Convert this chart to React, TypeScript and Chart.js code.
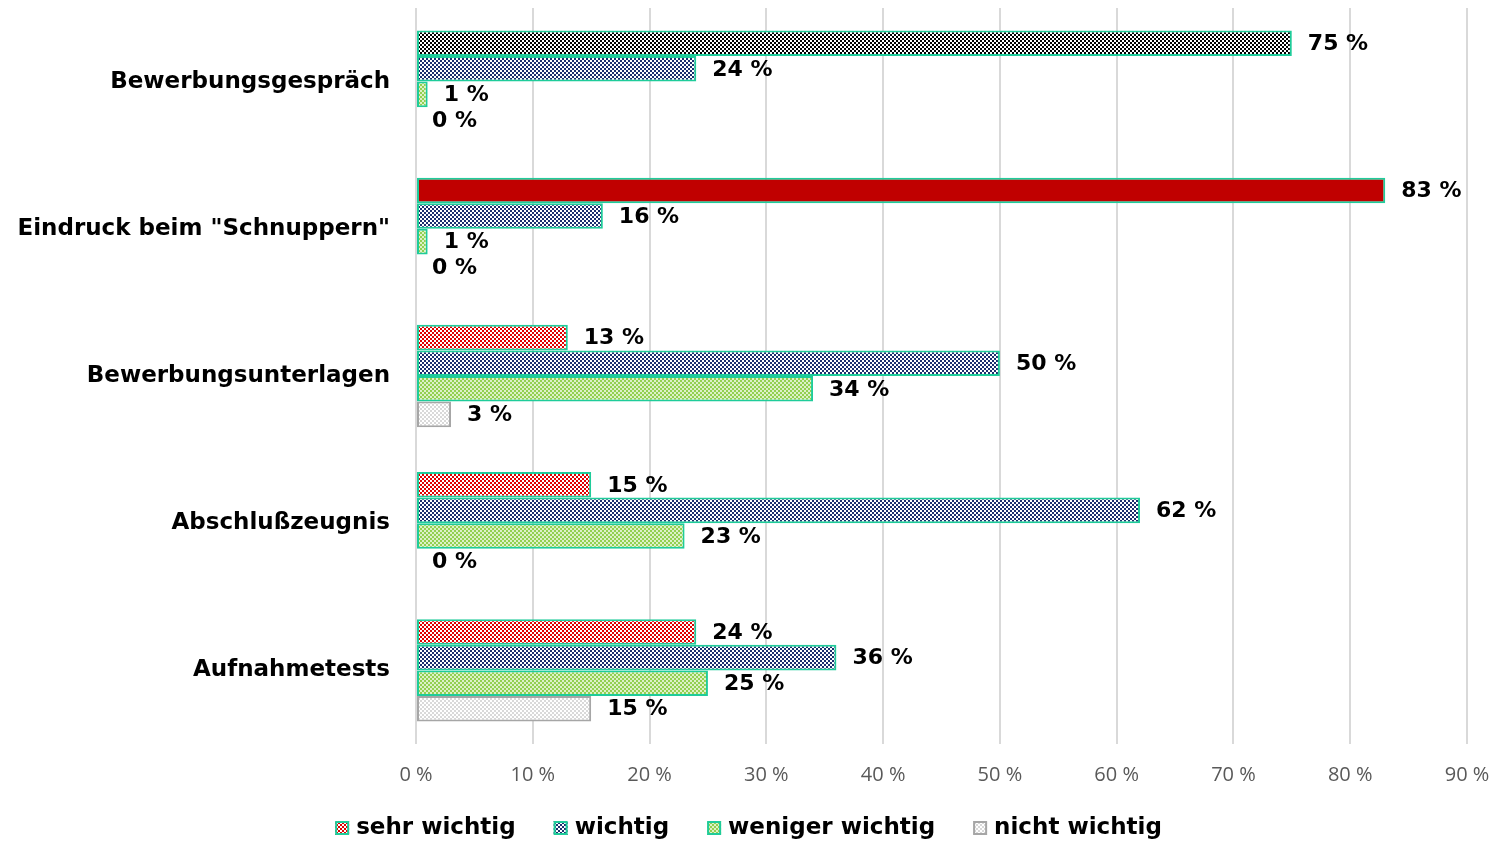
import React, { useEffect, useRef } from "react";
import { Chart, registerables } from "chart.js";

Chart.register(...registerables);

const categories = [
  "Bewerbungsgespräch",
  'Eindruck beim "Schnuppern"',
  "Bewerbungsunterlagen",
  "Abschlußzeugnis",
  "Aufnahmetests",
];
const seriesNames = ["sehr wichtig", "wichtig", "weniger wichtig", "nicht wichtig"];
const sehrWichtig = [75, 83, 13, 15, 24];
const wichtig = [24, 16, 50, 62, 36];
const wenigerWichtig = [1, 1, 34, 23, 25];
const nichtWichtig = [0, 0, 3, 0, 15];
const xTicks = [0, 10, 20, 30, 40, 50, 60, 70, 80, 90];

const LABEL_FONT = "'DejaVu Sans', sans-serif";
const TEAL = "#1FCC9A";
const GRAY_BORDER = "#A6A6A6";

function makePattern(fg: string, bg: string): CanvasPattern | string {
  const c = document.createElement("canvas");
  c.width = 4;
  c.height = 4;
  const g = c.getContext("2d");
  if (!g) return fg;
  g.fillStyle = bg;
  g.fillRect(0, 0, 4, 4);
  g.fillStyle = fg;
  g.fillRect(0, 0, 2, 2);
  g.fillRect(2, 2, 2, 2);
  const p = g.createPattern(c, "repeat");
  return p || fg;
}

const dataLabelPlugin = {
  id: "dataLabels",
  afterDatasetsDraw(chart: any) {
    const ctx = chart.ctx;
    ctx.save();
    ctx.font = `bold 22px ${LABEL_FONT}`;
    ctx.fillStyle = "#000";
    ctx.textAlign = "left";
    ctx.textBaseline = "middle";
    chart.data.datasets.forEach((ds: any, di: number) => {
      const meta = chart.getDatasetMeta(di);
      meta.data.forEach((el: any, i: number) => {
        const v = ds.data[i];
        ctx.fillText(`${v} %`, el.x + 16, el.y + 1);
      });
    });
    ctx.restore();
  },
};

function makeLegendPlugin(fills: any[], borders: string[]) {
  return {
    id: "customLegend",
    afterDraw(chart: any) {
      const ctx = chart.ctx;
      ctx.save();
      ctx.font = `bold 23px ${LABEL_FONT}`;
      ctx.textBaseline = "middle";
      ctx.textAlign = "left";
      const box = 14;
      const gapBox = 7;
      const gapItem = 38;
      const widths = seriesNames.map((n) => ctx.measureText(n).width);
      const total =
        widths.reduce((a, b) => a + b, 0) + seriesNames.length * (box + gapBox) + gapItem * (seriesNames.length - 1);
      let x = (chart.width - total) / 2;
      const y = chart.height - 16;
      seriesNames.forEach((n, i) => {
        ctx.fillStyle = fills[i];
        ctx.fillRect(x, y - box / 2, box, box);
        ctx.strokeStyle = borders[i];
        ctx.lineWidth = 2;
        ctx.strokeRect(x + 1, y - box / 2 + 1, box - 2, box - 2);
        ctx.fillStyle = "#000";
        ctx.fillText(n, x + box + gapBox, y);
        x += box + gapBox + widths[i] + gapItem;
      });
      ctx.restore();
    },
  };
}

export default function App() {
  const ref = useRef<HTMLCanvasElement>(null);
  useEffect(() => {
    if (!ref.current) return;
    const redP = makePattern("#E00000", "#FFFFFF");
    const blackP = makePattern("#000000", "#FFFFFF");
    const blueP = makePattern("#1B2F6E", "#FFFFFF");
    const greenP = makePattern("#92D050", "#DDF1C8");
    const grayP = makePattern("#D9D9D9", "#FFFFFF");
    const solidRed = "#C00000";
    const fills = [redP, blueP, greenP, grayP];
    const borders = [TEAL, TEAL, TEAL, GRAY_BORDER];

    const chart = new Chart(ref.current, {
      type: "bar",
      data: {
        labels: categories,
        datasets: [
          {
            label: seriesNames[0],
            data: sehrWichtig,
            backgroundColor: (c: any) =>
              c.dataIndex === 0 ? blackP : c.dataIndex === 1 ? solidRed : redP,
            borderColor: TEAL,
          },
          { label: seriesNames[1], data: wichtig, backgroundColor: blueP, borderColor: TEAL },
          { label: seriesNames[2], data: wenigerWichtig, backgroundColor: greenP, borderColor: TEAL },
          { label: seriesNames[3], data: nichtWichtig, backgroundColor: grayP, borderColor: GRAY_BORDER },
        ].map((d) => ({
          ...d,
          borderWidth: 2,
          borderSkipped: false,
          barPercentage: 1,
          categoryPercentage: 0.695,
        })) as any,
      },
      options: {
        indexAxis: "y",
        animation: false,
        responsive: true,
        maintainAspectRatio: false,
        layout: { autoPadding: false, padding: { top: 8, right: 30, left: 0, bottom: 0 } },
        plugins: {
          tooltip: { enabled: false },
          legend: { display: false },
        },
        scales: {
          x: {
            min: 0,
            max: 90,
            afterBuildTicks: (s: any) => {
              s.ticks = xTicks.map((v) => ({ value: v }));
            },
            afterFit: (s: any) => {
              s.height = 100;
              s.paddingLeft = 0;
              s.paddingRight = 0;
              s.paddingTop = 0;
              s.paddingBottom = 0;
            },
            ticks: {
              callback: (v: any) => `${v} %`,
              font: { family: "'Open Sans', sans-serif", size: 20 },
              color: "#595959",
              padding: 19,
              maxRotation: 0,
            },
            grid: { color: "#D9D9D9", lineWidth: 2, drawTicks: false },
            border: { display: false },
          },
          y: {
            afterFit: (s: any) => {
              s.width = 416;
              s.paddingLeft = 0;
              s.paddingRight = 0;
              s.paddingTop = 0;
              s.paddingBottom = 0;
            },
            ticks: {
              font: { family: LABEL_FONT, size: 23, weight: "bold" },
              color: "#000",
              padding: 26,
            },
            grid: { display: false, drawTicks: false },
            border: { display: false },
          },
        },
      },
      plugins: [dataLabelPlugin, makeLegendPlugin(fills, borders)],
    });
    return () => chart.destroy();
  }, []);
  return (
    <div style={{ position: "fixed", left: 0, top: 0, width: 1497, height: 844, background: "#fff" }}>
      <canvas ref={ref} />
    </div>
  );
}
